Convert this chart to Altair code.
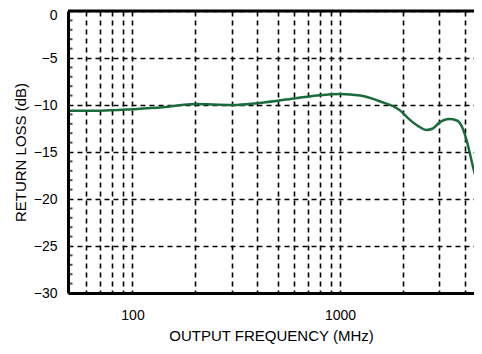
import altair as alt
import pandas as pd

# Curve (frequency in MHz, return loss in dB)
freq_mhz = [50, 70, 100, 140, 200, 300, 420, 600, 800, 1000, 1250, 1550,
            1950, 2150, 2400, 2600, 2800, 3000, 3350, 3650, 3900, 4100,
            4350, 4600, 4750]
return_loss_db = [-10.62, -10.6, -10.45, -10.25, -9.9, -10.0, -9.75, -9.3,
                  -8.95, -8.83, -9.0, -9.6, -10.6, -11.5, -12.3, -12.65,
                  -12.5, -11.9, -11.5, -11.65, -12.5, -14.0, -16.4, -18.3,
                  -18.8]

x_grid = [60, 70, 80, 90, 100, 200, 300, 400, 500, 600, 700, 800, 900,
          1000, 2000, 3000, 4000]
x_label_values = [100, 1000]
y_ticks = [0, -5, -10, -15, -20, -25, -30]
y_minor = [-1, -2, -3, -4, -6, -7, -8, -9, -11, -12, -13, -14, -16, -17,
           -18, -19, -21, -22, -23, -24, -26, -27, -28, -29]
top_border = [0]

df = pd.DataFrame({"f": freq_mhz, "rl": return_loss_db})
minor_df = pd.DataFrame({"rl": y_minor})
top_df = pd.DataFrame({"rl": top_border})

x_scale = alt.Scale(type="log", domain=[48.9, 4418])
y_scale = alt.Scale(domain=[-30, 0])

label_expr = " || ".join(f"datum.value == {v}" for v in x_label_values)

y_axis = alt.Axis(values=y_ticks, labelPadding=11, titlePadding=5,
                  ticks=False, tickSize=0, tickOpacity=0, tickWidth=0,
                  labelOffset={"condition": {"test": "datum.value == 0",
                                             "value": 4},
                               "value": 0})
y_title = "RETURN LOSS (dB)"

line = alt.Chart(df).mark_line(
    color="#1b6b3c", strokeWidth=2.5, interpolate="monotone", clip=True
).encode(
    x=alt.X("f:Q", scale=x_scale, title="OUTPUT FREQUENCY (MHz)",
            axis=alt.Axis(values=x_grid, format="d",
                          labelExpr=f"({label_expr}) ? datum.label : ''",
                          labelOverlap=False, labelPadding=15,
                          titlePadding=6, ticks=False, tickSize=0,
                          tickOpacity=0, tickWidth=0)),
    y=alt.Y("rl:Q", scale=y_scale, title=y_title, axis=y_axis),
)

minor = alt.Chart(minor_df).mark_tick(
    orient="horizontal", size=5, thickness=2, color="black"
).encode(
    y=alt.Y("rl:Q", scale=y_scale, title=y_title, axis=y_axis),
    x=alt.value(2),
)

top = alt.Chart(top_df).mark_rule(strokeWidth=3, color="black").encode(
    y=alt.Y("rl:Q", scale=y_scale, title=y_title, axis=y_axis),
)

chart = alt.layer(line, minor, top).properties(
    width=406,
    height=282,
    padding={"left": 60, "top": 3, "right": 0, "bottom": 52},
    autosize=alt.AutoSizeParams(type="none"),
).configure_view(stroke=None).configure_axis(
    domainColor="black",
    domainWidth=3,
    grid=True,
    gridColor="black",
    gridDash=[5, 4],
    gridWidth=1.6,
    gridOpacity=1,
    ticks=False,
    tickOpacity=0,
    labelFont="Liberation Sans",
    labelFontSize=14,
    labelColor="black",
    titleFont="Liberation Sans",
    titleFontSize=15,
    titleFontWeight="normal",
    titleColor="black",
)

chart.save("out.html", embed_options={"renderer": "svg", "actions": False})
